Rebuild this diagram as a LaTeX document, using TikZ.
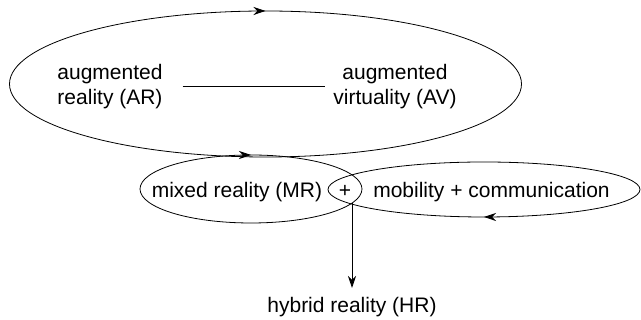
\documentclass[tikz,border=0pt]{standalone}
\usepackage{fontspec}
\setmainfont{Liberation Sans}
\usetikzlibrary{arrows.meta,decorations.markings}
\begin{document}
\begin{tikzpicture}[x=1pt,y=1pt,
  lbl/.style={inner sep=0pt, font=\fontsize{21}{25}\selectfont, align=center},
  loopline/.style={line width=0.8pt},
  revtip/.style={postaction={decorate}, decoration={markings, mark=at position #1 with {\arrowreversed{Stealth[length=12pt,width=8pt]}}}},
  conn/.style={line width=0.8pt}]
\useasboundingbox (0,0) rectangle (641,320);
% loops
\draw[loopline, revtip=0.25] (265.5,236) ellipse [x radius=256, y radius=73];
\draw[loopline, revtip=0.25] (251,131) ellipse [x radius=111, y radius=34];
\draw[loopline, revtip=0.75] (484,130.5) ellipse [x radius=156, y radius=27.5];
% labels
\node[lbl] (ar) at (110,233.8) {augmented\\reality (AR)};
\node[lbl] (av) at (395,233.8) {augmented\\virtuality (AV)};
\node[lbl, anchor=base] (mr) at (237,122) {mixed reality (MR)};
\node[lbl, anchor=base] (plus) at (345,122) {+};
\node[lbl, anchor=base] (mob) at (491.5,122) {mobility + communication};
\node[lbl, anchor=base] (hr) at (352,7) {hybrid reality (HR)};
\coordinate (meet) at (352,116.5);
% connectors
\draw[conn, shorten <=20pt, shorten >=8.5pt] (ar.east) -- (av.west);
\draw[conn, -{Stealth[length=12pt,width=8pt]}] (meet) -- (meet |- 0,32);
\end{tikzpicture}
\end{document}
